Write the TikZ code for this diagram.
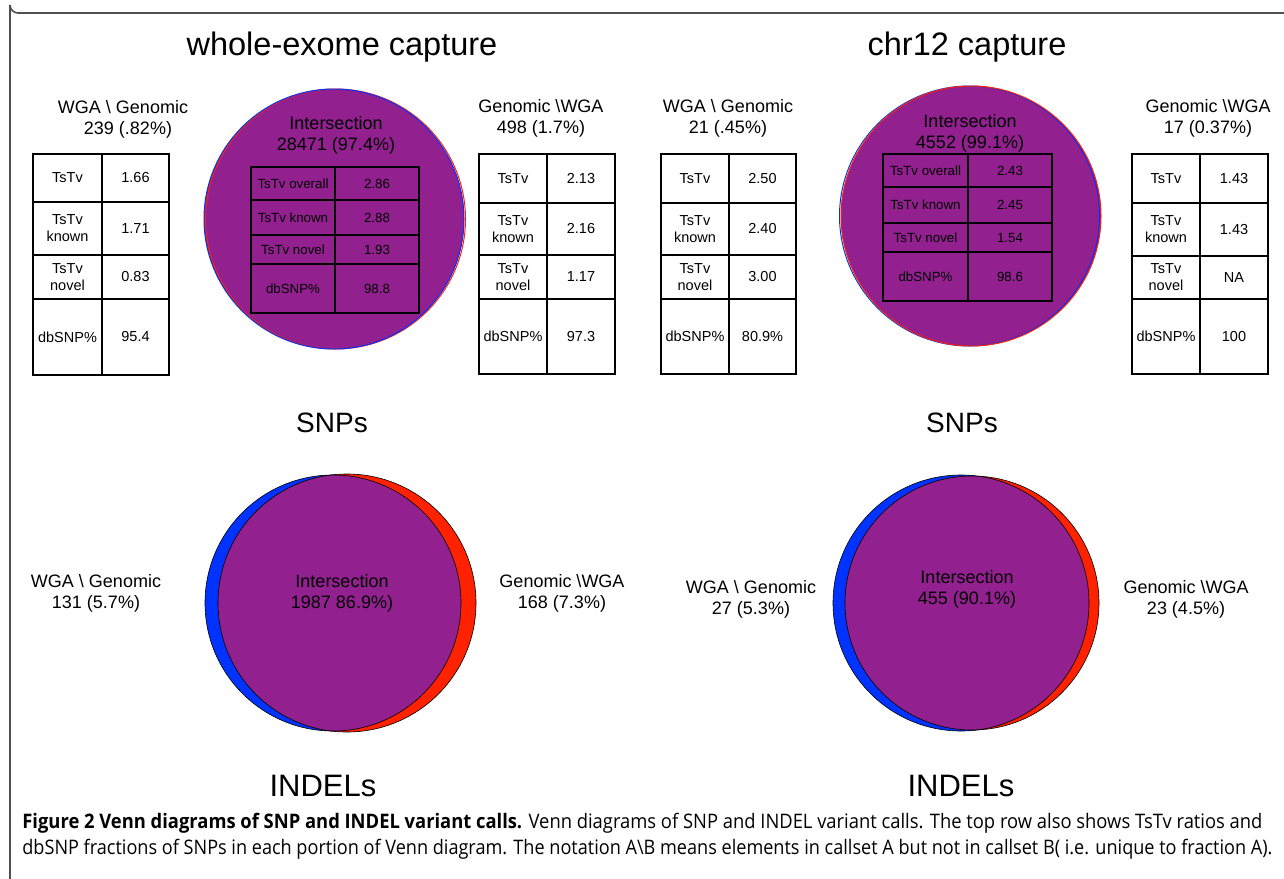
\documentclass[tikz,border=0pt]{standalone}
\usepackage{fontspec}
\usepackage{graphicx}
\setmainfont{Liberation Sans}
\newfontfamily\capfont{Open Sans}
\definecolor{vpurple}{RGB}{146,32,143}
\definecolor{vblue}{RGB}{0,51,255}
\definecolor{vred}{RGB}{255,34,0}
\definecolor{framegray}{RGB}{80,80,80}
\tikzset{
  ttl/.style={font=\fontsize{16.25}{19}\selectfont, inner sep=0pt},
  sub/.style={font=\fontsize{14}{16}\selectfont, inner sep=0pt},
  lab/.style={font=\fontsize{9}{10.5}\selectfont, align=center, inner sep=0pt},
  cell/.style={font=\fontsize{7.25}{8.5}\selectfont, align=center, inner sep=0pt},
  icell/.style={font=\fontsize{6.65}{7.8}\selectfont, align=center, inner sep=0pt},
  tline/.style={draw=black, line width=1pt},
}
% x0 xm x1 ya yb left right style
\newcommand\cellpair[8]{%
  \draw[tline] (#1,#4) rectangle (#2,#5);
  \draw[tline] (#2,#4) rectangle (#3,#5);
  \node[#8] at ({(#1+#2)/2},{(#4+#5)/2}) {#6};
  \node[#8] at ({(#2+#3)/2},{(#4+#5)/2}) {#7};
}
\begin{document}
\begin{tikzpicture}[x=0.5pt,y=-0.5pt]
\useasboundingbox (0,0) rectangle (1284,878);
% frame
\draw[framegray, line width=0.8pt] (1290,13) -- (18,13) arc[start angle=90,end angle=180,radius=8] -- (10,885);

% titles
\node[ttl] (t1) at (342,47) {whole-exome capture};
\node[ttl] (t2) at (967,47) {chr12 capture};

% ===== top-left Venn (SNPs, whole exome) =====
\fill[vpurple] (334,219) circle (130);
\draw[vred, line width=0.5pt] (335.5,219) circle (130);
\draw[vblue, line width=0.5pt] (334,219) circle (130);
\node[lab] (i1) at (336,135) {Intersection\\28471 (97.4\%)};
\cellpair{251}{335}{419}{167}{200}{TsTv overall}{2.86}{icell}
\cellpair{251}{335}{419}{200}{235}{TsTv known}{2.88}{icell}
\cellpair{251}{335}{419}{235}{264}{TsTv novel}{1.93}{icell}
\cellpair{251}{335}{419}{264}{313}{dbSNP\%}{98.8}{icell}

% left table WGA \ Genomic
\node[lab] (l1) at (123,119) {WGA \textbackslash\ Genomic\\\ \ 239 (.82\%)};
\cellpair{33}{102}{169}{154}{202}{TsTv}{1.66}{cell}
\cellpair{33}{102}{169}{202}{255}{TsTv\\known}{1.71}{cell}
\cellpair{33}{102}{169}{255}{299}{TsTv\\novel}{0.83}{cell}
\cellpair{33}{102}{169}{299}{375}{dbSNP\%}{95.4}{cell}

% table Genomic \ WGA
\node[lab] (r1) at (541,118) {Genomic \textbackslash{}WGA\\498 (1.7\%)};
\cellpair{479}{547}{615}{154}{203}{TsTv}{2.13}{cell}
\cellpair{479}{547}{615}{203}{255}{TsTv\\known}{2.16}{cell}
\cellpair{479}{547}{615}{255}{299}{TsTv\\novel}{1.17}{cell}
\cellpair{479}{547}{615}{299}{374}{dbSNP\%}{97.3}{cell}

% ===== top-right Venn (SNPs, chr12) =====
\fill[vpurple] (971,216) circle (130);
\draw[vblue, line width=0.5pt] (969.5,216) circle (130);
\draw[vred, line width=0.5pt] (971,216) circle (130);
\node[lab] (i2) at (970,133) {Intersection\\4552 (99.1\%)};
\cellpair{883}{968}{1052}{154}{187}{TsTv overall}{2.43}{icell}
\cellpair{883}{968}{1052}{187}{223}{TsTv known}{2.45}{icell}
\cellpair{883}{968}{1052}{223}{252}{TsTv novel}{1.54}{icell}
\cellpair{883}{968}{1052}{252}{301}{dbSNP\%}{98.6}{icell}

% table WGA \ Genomic (chr12)
\node[lab] (l2) at (728,118) {WGA \textbackslash\ Genomic\\21 (.45\%)};
\cellpair{661}{729}{796}{154}{203}{TsTv}{2.50}{cell}
\cellpair{661}{729}{796}{203}{255}{TsTv\\known}{2.40}{cell}
\cellpair{661}{729}{796}{255}{299}{TsTv\\novel}{3.00}{cell}
\cellpair{661}{729}{796}{299}{374}{dbSNP\%}{80.9\%}{cell}

% table Genomic \ WGA (chr12)
\node[lab] (r2) at (1208,118) {Genomic \textbackslash{}WGA\\17 (0.37\%)};
\cellpair{1132}{1200}{1268}{154}{203}{TsTv}{1.43}{cell}
\cellpair{1132}{1200}{1268}{203}{256}{TsTv\\known}{1.43}{cell}
\cellpair{1132}{1200}{1268}{256}{299}{TsTv\\novel}{NA}{cell}
\cellpair{1132}{1200}{1268}{299}{374}{dbSNP\%}{100}{cell}

\node[sub] (s1) at (332,423) {SNPs};
\node[sub] (s2) at (962,423) {SNPs};

% ===== bottom-left Venn (INDELs) =====
\fill[vblue] (333,603) circle (128);
\fill[vred] (347,603) circle (129);
\begin{scope}
  \clip (333,603) circle (128);
  \fill[vpurple] (347,603) circle (129);
\end{scope}
\draw[black, line width=0.3pt] (333,603) circle (128);
\draw[black, line width=0.3pt] (347,603) circle (129);
\node[lab] (bl1) at (96,593) {WGA \textbackslash\ Genomic\\131 (5.7\%)};
\node[lab] (bi1) at (342,593) {Intersection\\1987 86.9\%)};
\node[lab] (br1) at (562,593) {Genomic \textbackslash{}WGA\\168 (7.3\%)};

% ===== bottom-right Venn (INDELs) =====
\fill[vblue] (961,603) circle (128);
\fill[vred] (972,603) circle (127);
\begin{scope}
  \clip (961,603) circle (128);
  \fill[vpurple] (972,603) circle (127);
\end{scope}
\draw[black, line width=0.3pt] (961,603) circle (128);
\draw[black, line width=0.3pt] (972,603) circle (127);
\node[lab] (bl2) at (751,599) {WGA \textbackslash\ Genomic\\27 (5.3\%)};
\node[lab] (bi2) at (967,589) {Intersection\\455 (90.1\%)};
\node[lab] (br2) at (1186,599) {Genomic \textbackslash{}WGA\\23 (4.5\%)};

\node[sub, font=\fontsize{15.5}{18}\selectfont] (d1) at (323,786) {INDELs};
\node[sub, font=\fontsize{15.5}{18}\selectfont] (d2) at (961,786) {INDELs};

% caption
\node[anchor=west, inner sep=0pt] (c1) at (22,823) {\resizebox{620pt}{\height}{\capfont\fontsize{10}{12}\selectfont\textbf{Figure 2 Venn diagrams of SNP and INDEL variant calls.} Venn diagrams of SNP and INDEL variant calls. The top row also shows TsTv ratios and}};
\node[anchor=west, inner sep=0pt] (c2) at (22,849) {\resizebox{625pt}{\height}{\capfont\fontsize{10}{12}\selectfont dbSNP fractions of SNPs in each portion of Venn diagram. The notation A\textbackslash B means elements in callset A but not in callset B( i.e. unique to fraction A).}};
\end{tikzpicture}
\end{document}
